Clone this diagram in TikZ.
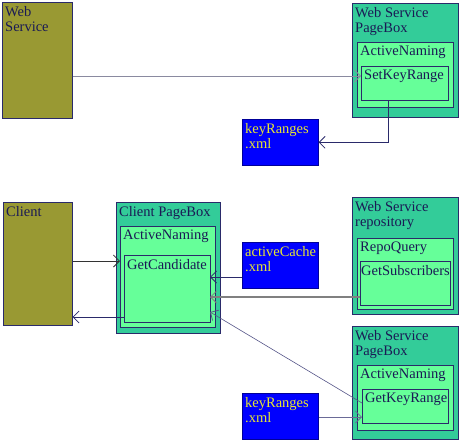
\documentclass[tikz,border=0pt]{standalone}
\usepackage{fontspec}
\setmainfont{Liberation Serif}
\usetikzlibrary{arrows.meta}

\definecolor{olivebox}{HTML}{999933}
\definecolor{tealbox}{HTML}{33CC99}
\definecolor{mintbox}{HTML}{66FF99}
\definecolor{filebox}{HTML}{0000FF}
\definecolor{filetext}{HTML}{E6E633}
\definecolor{inktext}{HTML}{1A1A55}
\definecolor{edgeline}{HTML}{2A2A6A}
\definecolor{greyline}{HTML}{8A8AA0}

\tikzset{
  box/.style={anchor=north west, inner sep=0pt, draw=edgeline, line width=0.6pt},
  tag/.style={anchor=north west, inner xsep=3pt, inner ysep=4pt, align=left, text=inktext,
    font=\fontsize{14.5}{15}\selectfont},
  actor/.style={box, fill=olivebox},
  pagebox/.style={box, fill=tealbox},
  inner/.style={box, fill=mintbox},
  xmlfile/.style={box, fill=filebox, draw=filebox!60!black},
  conn/.style={draw=edgeline, line width=0.6pt,
    -{Straight Barb[length=6pt, width=12pt, line width=0.8pt]}},
}

\begin{document}
\begin{tikzpicture}[x=1pt, y=-1pt]
  \useasboundingbox (0,0) rectangle (461,442);

  % top half
  \node (ws) at (2, 2) [actor, minimum width=70pt, minimum height=116pt,
    label={[tag]north west:Web\\Service}] {};
  \node (wspb1) at (352, 3) [pagebox, minimum width=106pt, minimum height=114pt,
    label={[tag]north west:Web Service\\PageBox}] {};
  \node (an1) at (357, 42) [inner, minimum width=96pt, minimum height=65pt,
    label={[tag]north west:ActiveNaming}] {};
  \node (skr) at (361, 66) [inner, minimum width=87pt, minimum height=34pt,
    label={[tag]north west:SetKeyRange}] {};
  \node (kr1) at (242, 119) [xmlfile, minimum width=76pt, minimum height=46pt,
    label={[tag, text=filetext]north west:keyRanges\\.xml}] {};

  % bottom half
  \node (cl) at (3, 202) [actor, minimum width=69pt, minimum height=123pt,
    label={[tag]north west:Client}] {};
  \node (cpb) at (116, 202) [pagebox, minimum width=104pt, minimum height=131pt,
    label={[tag]north west:Client PageBox}] {};
  \node (an2) at (120, 226) [inner, minimum width=95pt, minimum height=101pt,
    label={[tag]north west:ActiveNaming}] {};
  \node (gc) at (124, 255) [inner, minimum width=86pt, minimum height=67pt,
    label={[tag]north west:GetCandidate}] {};
  \node (ac) at (242, 242) [xmlfile, minimum width=76pt, minimum height=46pt,
    label={[tag, text=filetext]north west:activeCache\\.xml}] {};
  \node (wsr) at (352, 197) [pagebox, minimum width=106pt, minimum height=117pt,
    label={[tag]north west:Web Service\\repository}] {};
  \node (rq) at (357, 238) [inner, minimum width=96pt, minimum height=71pt,
    label={[tag]north west:RepoQuery}] {};
  \node (gs) at (360, 261) [inner, minimum width=90pt, minimum height=44pt,
    label={[tag, inner xsep=1pt]north west:GetSubscribers}] {};
  \node (wspb2) at (352, 326) [pagebox, minimum width=106pt, minimum height=113pt,
    label={[tag]north west:Web Service\\PageBox}] {};
  \node (an3) at (357, 365) [inner, minimum width=96pt, minimum height=65pt,
    label={[tag]north west:ActiveNaming}] {};
  \node (gkr) at (362, 389) [inner, minimum width=86pt, minimum height=34pt,
    label={[tag]north west:GetKeyRange}] {};
  \node (kr2) at (242, 393) [xmlfile, minimum width=76pt, minimum height=46pt,
    label={[tag, text=filetext]north west:keyRanges\\.xml}] {};

  % connector ends
  \coordinate (skrin) at (361, 76);
  \coordinate (gcin) at (120, 261);
  \coordinate (gcout) at (124, 317);
  \coordinate (acin) at (210, 277);
  \coordinate (gsin) at (210, 297);
  \coordinate (gkrin) at (210, 312);
  \coordinate (gkrout) at (362, 403);

  \draw[conn, draw=greyline, line width=1pt] (ws.east |- skrin) -- (skrin);
  \draw[conn] ([xshift=-17pt]skr.south) |- (kr1.east);
  \draw[conn, draw=black!80] (cl.east |- gcin) -- (gcin);
  \draw[conn] (gcout) -- (cl.east |- gcout);
  \draw[conn] (ac.west |- acin) -- (acin);
  \draw[conn, draw=gray, line width=1.2pt] (gs.west |- gsin) -- (gsin);
  \draw[conn, draw=edgeline!80] (gkrout) -- (gkrin);
  \draw[conn, draw=edgeline!70] (kr2.east |- 0, 417) -- (gkr.west |- 0, 417);
\end{tikzpicture}
\end{document}
